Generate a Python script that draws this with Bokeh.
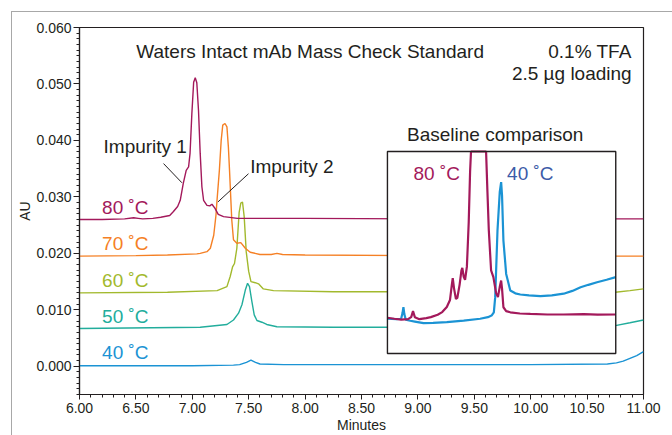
from bokeh.plotting import figure
from bokeh.models import Range1d, FixedTicker, NumeralTickFormatter, Label
from bokeh.embed import file_html
from bokeh.resources import INLINE

# ---------------- data ----------------
T80 = [6.00, 6.20, 6.40, 6.48, 6.52, 6.56, 6.65, 6.72, 6.80, 6.833, 6.87, 6.893, 6.92, 6.946,
       6.967, 6.98, 6.996, 7.012, 7.026, 7.04, 7.055, 7.07, 7.085, 7.10, 7.13, 7.155, 7.174,
       7.20, 7.23, 7.277, 7.40, 8.00, 9.00, 10.00, 11.00]
A80 = [0.0260, 0.0260, 0.0261, 0.0263, 0.0262, 0.0261, 0.0262, 0.0264, 0.0267, 0.0274, 0.0283,
       0.0294, 0.0324, 0.0347, 0.0353, 0.0377, 0.0447, 0.0503, 0.0511, 0.0502, 0.0453, 0.0377,
       0.0318, 0.0294, 0.0285, 0.0284, 0.0287, 0.0280, 0.0269, 0.0265, 0.0262, 0.0262, 0.0261,
       0.0261, 0.0261]

T70 = [6.00, 6.50, 6.78, 7.04, 7.07, 7.13, 7.16, 7.19, 7.21, 7.218, 7.24, 7.256, 7.27, 7.29,
       7.307, 7.32, 7.33, 7.342, 7.35, 7.365, 7.395, 7.43, 7.47, 7.513, 7.60, 7.70, 7.75, 7.80,
       8.00, 9.00, 10.00, 11.00]
A70 = [0.0195, 0.0196, 0.0197, 0.0199, 0.0200, 0.0203, 0.0209, 0.0232, 0.0268, 0.0291, 0.0347,
       0.0400, 0.0427, 0.0430, 0.0424, 0.0388, 0.0347, 0.0294, 0.0259, 0.0224, 0.0218, 0.0219,
       0.0209, 0.0202, 0.0198, 0.0198, 0.0200, 0.0198, 0.0197, 0.0196, 0.0195, 0.0195]

T60 = [6.00, 6.78, 7.22, 7.307, 7.336, 7.357, 7.374, 7.395, 7.415, 7.43, 7.445, 7.46, 7.478,
       7.50, 7.52, 7.558, 7.587, 7.63, 7.72, 8.25, 9.00, 10.00, 10.75, 10.88, 11.00]
A60 = [0.0130, 0.0131, 0.0134, 0.0141, 0.0159, 0.0176, 0.0182, 0.0209, 0.0272, 0.0289, 0.0291,
       0.0265, 0.0203, 0.0168, 0.0150, 0.0148, 0.0146, 0.0137, 0.0134, 0.0132, 0.0132, 0.0131,
       0.0131, 0.0134, 0.0137]

T50 = [6.00, 7.07, 7.307, 7.365, 7.41, 7.44, 7.47, 7.49, 7.507, 7.528, 7.549, 7.573, 7.617,
       7.66, 7.75, 8.25, 9.00, 10.00, 10.60, 10.75, 10.88, 11.00]
A50 = [0.0067, 0.0069, 0.0074, 0.0082, 0.0094, 0.0109, 0.0135, 0.0147, 0.0141, 0.0115, 0.0091,
       0.0081, 0.0078, 0.0074, 0.0070, 0.0069, 0.0069, 0.0070, 0.0071, 0.0072, 0.0077, 0.0082]

T40 = [6.00, 7.00, 7.365, 7.42, 7.48, 7.52, 7.56, 7.60, 7.81, 8.25, 9.00, 10.00, 10.68, 10.76,
       10.82, 10.88, 10.94, 11.00]
A40 = [0.0001, 0.0001, 0.0002, 0.0003, 0.0007, 0.0011, 0.0007, 0.0004, 0.0003, 0.0003, 0.0003,
       0.0003, 0.0004, 0.0006, 0.0009, 0.0014, 0.0019, 0.0026]

# inset "Baseline comparison" (own time axis, arbitrary response units, clipped at box top)
IT80 = [5.00, 5.15, 5.30, 5.45, 5.52, 5.56, 5.60, 5.70, 5.85, 5.95, 6.10, 6.20, 6.30, 6.37,
        6.41, 6.43, 6.46, 6.50, 6.53, 6.58, 6.62, 6.64, 6.67, 6.70, 6.74, 6.78, 6.81, 6.83,
        7.16, 7.19, 7.22, 7.27, 7.32, 7.38, 7.42, 7.46, 7.49, 7.51, 7.54, 7.60, 7.69, 7.90,
        8.13, 8.50, 8.86, 9.30, 9.60, 10.00]
IV80 = [1.77, 1.72, 1.68, 1.70, 1.80, 2.10, 1.80, 1.70, 1.75, 1.80, 1.92, 2.05, 2.30, 2.65,
        3.40, 3.73, 3.20, 2.70, 2.75, 3.40, 4.10, 4.24, 3.80, 3.65, 4.30, 6.50, 9.00, 10.0,
        10.0, 8.00, 6.10, 4.11, 3.78, 2.99, 2.80, 3.30, 3.61, 3.20, 2.29, 2.10, 2.04, 1.98,
        1.96, 1.93, 1.93, 1.95, 1.92, 1.93]
IT40 = [5.00, 5.20, 5.30, 5.33, 5.35, 5.37, 5.40, 5.50, 5.60, 5.79, 6.00, 6.30, 6.67, 7.03,
        7.20, 7.28, 7.33, 7.36, 7.41, 7.46, 7.49, 7.51, 7.54, 7.60, 7.69, 7.80, 7.91, 8.10,
        8.35, 8.60, 8.86, 9.05, 9.23, 9.40, 9.59, 9.80, 10.00]
IV40 = [1.72, 1.70, 1.72, 2.00, 2.29, 1.95, 1.68, 1.62, 1.58, 1.50, 1.52, 1.55, 1.63, 1.72,
        1.80, 1.88, 2.04, 2.79, 6.09, 8.00, 8.48, 7.80, 5.59, 3.94, 3.12, 2.98, 2.92, 2.88,
        2.84, 2.88, 2.96, 3.10, 3.28, 3.40, 3.53, 3.65, 3.78]

X_TICKS = [6.0, 6.5, 7.0, 7.5, 8.0, 8.5, 9.0, 9.5, 10.0, 10.5, 11.0]
Y_TICKS = [0.0, 0.01, 0.02, 0.03, 0.04, 0.05, 0.06]
TRACE_NAMES = ["80 ˚C", "70 ˚C", "60 ˚C", "50 ˚C", "40 ˚C"]

# ---------------- styling / layout ----------------
FONT = "Liberation Sans"
INK = "#231f20"
GREY = "#a8a8a8"
C80, C70, C60, C50, C40 = "#a3195b", "#f58025", "#a2b92d", "#22ad9c", "#1b93d4"
C40_INSET_LABEL = "#3c5ba8"

X_RANGE = (6.0, 11.0)
Y_RANGE = (-0.005, 0.060)

# light-grey outer frame of the original figure, painted as the page background
frame_css = {
    "background-color": "white",
    "background-image": f"linear-gradient({GREY}, {GREY}), linear-gradient({GREY}, {GREY})",
    "background-size": "1px 100%, 100% 1px",
    "background-position": "11px 11px, 11px 11px",
    "background-repeat": "no-repeat",
}

p = figure(width=672, height=435, output_backend="svg", toolbar_location=None,
           x_range=Range1d(*X_RANGE), y_range=Range1d(*Y_RANGE),
           min_border_left=79, min_border_right=29, min_border_top=27, min_border_bottom=41,
           styles=frame_css)
p.background_fill_color = "white"
p.border_fill_color = None
p.outline_line_color = INK
p.outline_line_width = 1.2
p.grid.visible = False

for ax in (p.xaxis[0], p.yaxis[0]):
    ax.axis_line_color = INK
    ax.axis_line_width = 1.2
    ax.major_tick_line_color = INK
    ax.minor_tick_line_color = INK
    ax.major_tick_in = 0
    ax.minor_tick_in = 0
    ax.major_label_text_font = FONT
    ax.major_label_text_font_size = "14px"
    ax.major_label_text_color = INK
    ax.axis_label_text_font = FONT
    ax.axis_label_text_font_size = "14px"
    ax.axis_label_text_font_style = "normal"
    ax.axis_label_text_color = INK

p.xaxis.ticker = FixedTicker(ticks=X_TICKS,
                             minor_ticks=[round(6.0 + 0.1 * i, 2) for i in range(51)])
p.xaxis.formatter = NumeralTickFormatter(format="0.00")
p.xaxis.major_tick_out = 5
p.xaxis.minor_tick_out = 3
p.xaxis.major_label_standoff = 3
p.xaxis.axis_label = "Minutes"
p.xaxis.axis_label_standoff = 1

p.yaxis.ticker = FixedTicker(ticks=Y_TICKS,
                             minor_ticks=[round(-0.005 + 0.001 * i, 4) for i in range(66)])
p.yaxis.formatter = NumeralTickFormatter(format="0.000")
p.yaxis.major_tick_out = 6
p.yaxis.minor_tick_out = 3
p.yaxis.major_label_standoff = 2
p.yaxis.axis_label = "AU"
p.yaxis.axis_label_standoff = 0

# main traces
LW = 1.4
for t, a, c in [(T40, A40, C40), (T50, A50, C50), (T60, A60, C60), (T70, A70, C70), (T80, A80, C80)]:
    p.line(t, a, line_color=c, line_width=LW)

# inset: its own ranges mapped onto a box of the main frame
INSET_MAIN_X = (8.73, 10.754)
INSET_MAIN_Y = (0.00226, 0.03804)
INSET_T = (5.0, 10.0)
INSET_V = (0.0, 10.0)
sx = (INSET_T[1] - INSET_T[0]) / (INSET_MAIN_X[1] - INSET_MAIN_X[0])
sy = (INSET_V[1] - INSET_V[0]) / (INSET_MAIN_Y[1] - INSET_MAIN_Y[0])
p.extra_x_ranges = {"ix": Range1d(INSET_T[0] - (INSET_MAIN_X[0] - X_RANGE[0]) * sx,
                                  INSET_T[1] + (X_RANGE[1] - INSET_MAIN_X[1]) * sx)}
p.extra_y_ranges = {"iy": Range1d(INSET_V[0] - (INSET_MAIN_Y[0] - Y_RANGE[0]) * sy,
                                  INSET_V[1] + (Y_RANGE[1] - INSET_MAIN_Y[1]) * sy)}

p.quad(left=INSET_T[0], right=INSET_T[1], bottom=INSET_V[0], top=INSET_V[1],
       x_range_name="ix", y_range_name="iy", fill_color="white", line_color=None)
p.line(IT40, IV40, line_color=C40, line_width=2.2, x_range_name="ix", y_range_name="iy")
p.line(IT80, IV80, line_color=C80, line_width=2.2, x_range_name="ix", y_range_name="iy")
p.quad(left=INSET_T[0], right=INSET_T[1], bottom=INSET_V[0], top=INSET_V[1],
       x_range_name="ix", y_range_name="iy", fill_color=None, line_color=INK, line_width=1.4)

# leader lines for impurities
p.segment(x0=[6.745, 7.498], y0=[0.0359, 0.0341], x1=[6.908, 7.227], y1=[0.0325, 0.0291],
          line_color=INK, line_width=1.0)


def lab(x, y, text, color=INK, align="left", size="19px", xr=None, yr=None):
    kw = {}
    if xr:
        kw["x_range_name"] = xr
    if yr:
        kw["y_range_name"] = yr
    p.add_layout(Label(x=x, y=y, text=text, text_font=FONT, text_font_size=size,
                       text_color=color, text_align=align, text_baseline="middle", **kw))


lab(6.503, 0.0558, "Waters Intact mAb Mass Check Standard")
lab(10.895, 0.0558, "0.1% TFA", align="right")
lab(10.895, 0.0519, "2.5 µg loading", align="right")
lab(6.213, 0.0390, "Impurity 1")
lab(7.513, 0.0354, "Impurity 2")

for name, y, c in zip(TRACE_NAMES, [0.0281, 0.0217, 0.0152, 0.0088, 0.0024],
                      [C80, C70, C60, C50, C40]):
    lab(6.20, y, name, color=c)

lab(7.36, 10.84, "Baseline comparison", align="center", xr="ix", yr="iy")
lab(5.57, 8.9, TRACE_NAMES[0], color=C80, xr="ix", yr="iy")
lab(7.62, 8.9, TRACE_NAMES[4], color=C40_INSET_LABEL, xr="ix", yr="iy")

open("out.html", "w").write(file_html(p, INLINE))
